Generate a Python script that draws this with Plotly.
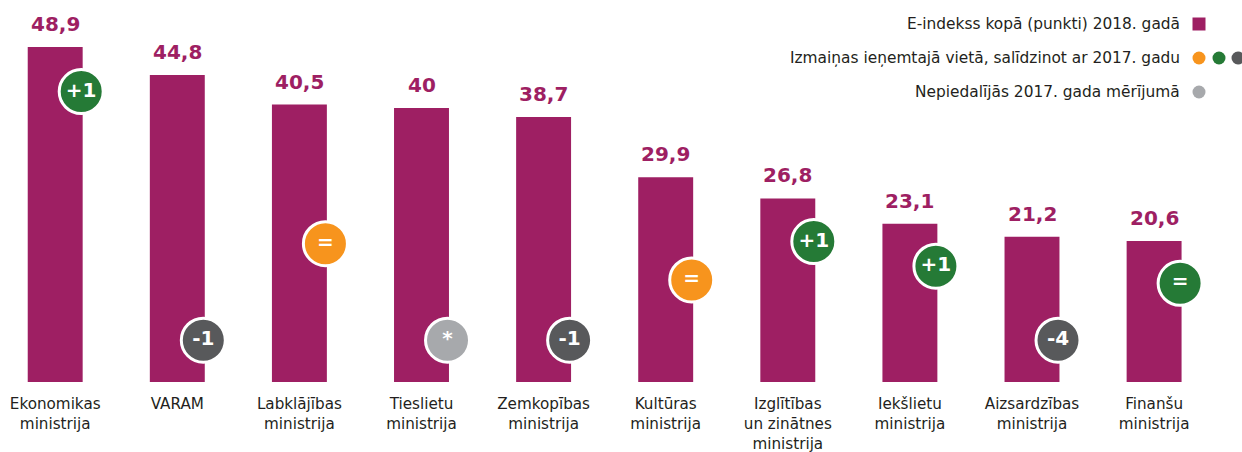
import plotly.graph_objects as go

ministries = ["Ekonomikas<br>ministrija", "VARAM", "Labklājības<br>ministrija", "Tieslietu<br>ministrija",
              "Zemkopības<br>ministrija", "Kultūras<br>ministrija", "Izglītības<br>un zinātnes<br>ministrija",
              "Iekšlietu<br>ministrija", "Aizsardzības<br>ministrija", "Finanšu<br>ministrija"]
scores = [48.9, 44.8, 40.5, 40, 38.7, 29.9, 26.8, 23.1, 21.2, 20.6]
score_labels = ["48,9", "44,8", "40,5", "40", "38,7", "29,9", "26,8", "23,1", "21,2", "20,6"]
badge_labels = ["+1", "-1", "=", "*", "-1", "=", "+1", "+1", "-4", "="]
badge_levels = [42.4, 6.1, 20.2, 6.1, 6.1, 14.9, 20.5, 16.9, 6.1, 14.4]
badge_colors = ["#257a36", "#58595b", "#f7941d", "#a7a9ac", "#58595b", "#f7941d", "#257a36", "#257a36", "#58595b", "#257a36"]
legend_labels = ["E-indekss kopā (punkti) 2018. gadā", "Izmaiņas ieņemtajā vietā, salīdzinot ar 2017. gadu", "Nepiedalījās 2017. gada mērījumā"]

MAGENTA = "#9e1f63"
FONT = "DejaVu Sans"
W, H, BASE, PXX, PXY, X0 = 1242, 452, 382, 122.1, 6.85, 55.2
positions = list(range(len(scores)))


def xd(px):
    return (px - X0) / PXX


def yd(py):
    return (BASE - py) / PXY


fig = go.Figure()
fig.add_bar(x=positions, y=scores, width=0.45, marker=dict(color=MAGENTA, line_width=0))
fig.add_scatter(x=[p + 0.213 for p in positions], y=badge_levels, mode="markers+text", cliponaxis=False,
                marker=dict(size=44, color=badge_colors, line=dict(color="white", width=3)),
                text=badge_labels, textposition="middle center",
                textfont=dict(family=FONT, size=20, color="white", weight="bold"))
# Legend swatches
fig.add_scatter(x=[xd(1199)], y=[yd(24)], mode="markers", cliponaxis=False,
                marker=dict(symbol="square", size=13, color=MAGENTA))
fig.add_scatter(x=[xd(1199), xd(1219), xd(1238), xd(1199)], y=[yd(58), yd(58), yd(58), yd(92)],
                mode="markers", cliponaxis=False,
                marker=dict(size=13, color=["#f7941d", "#257a36", "#58595b", "#a7a9ac"]))

for p, v, label in zip(positions, scores, score_labels):
    fig.add_annotation(x=p, y=v, xref="x", yref="y", text=label, showarrow=False, yanchor="middle",
                       yshift=23, font=dict(family=FONT, size=20, color=MAGENTA, weight="bold"))

for label, py in zip(legend_labels, [24, 58, 92]):
    fig.add_annotation(x=xd(1182), y=yd(py), xref="x", yref="y", text=label, showarrow=False,
                       xanchor="right", yanchor="middle",
                       font=dict(family=FONT, size=15.4, color="#231f20"))

fig.update_layout(width=W, height=H, margin=dict(l=0, r=0, t=0, b=H - BASE, autoexpand=False), showlegend=False,
                  paper_bgcolor="white", plot_bgcolor="white")
fig.update_xaxes(range=[xd(0), xd(W)], tickmode="array", tickvals=positions, ticktext=ministries,
                 showgrid=False, zeroline=False, showline=False, ticks="", tickangle=0,
                 ticklabelstandoff=11, automargin=False,
                 tickfont=dict(family=FONT, size=15.2, color="#231f20"))
fig.update_yaxes(range=[0, yd(0)], visible=False)
fig.write_html("out.html", config=dict(displayModeBar=False),
               post_script="document.body.style.margin='0';document.body.style.overflow='hidden';")
